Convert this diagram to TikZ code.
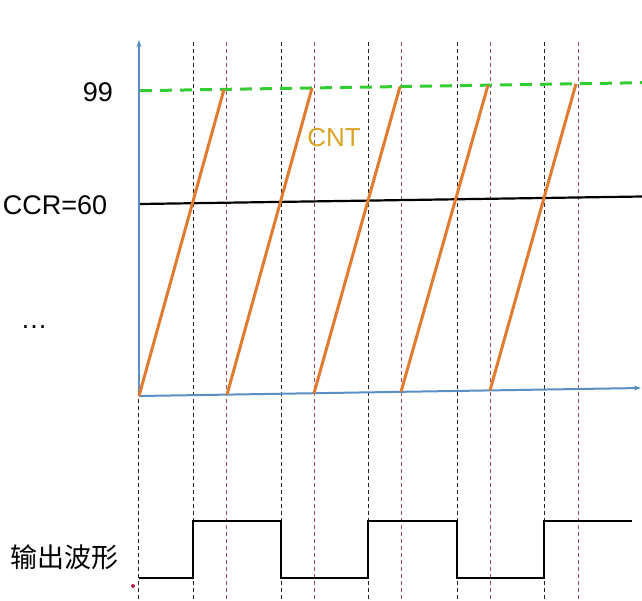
\documentclass[tikz,border=0pt]{standalone}
\usepackage{fontspec}
\setmainfont{Liberation Sans}
\newfontfamily\cjkfont{Noto Sans CJK SC}
\definecolor{axisBlue}{HTML}{5B8FC4}
\definecolor{cntOrange}{HTML}{E07B30}
\definecolor{cntLabel}{HTML}{D9A424}
\definecolor{topGreen}{HTML}{33CC33}
\definecolor{guideRed}{HTML}{A0505A}
\definecolor{markRed}{HTML}{C0204A}
\usetikzlibrary{arrows.meta}

\begin{document}
\begin{tikzpicture}[x=1pt, y=-1pt,
  axis/.style={draw=axisBlue, line width=2pt, -{Stealth[length=7pt, width=5pt]}},
  guide/.style={line width=1pt, dash pattern=on 4pt off 3pt},
  tooth/.style={draw=cntOrange, line width=3pt},
  pwm/.style={draw=black, line width=2.6pt, line join=miter},
  lbl/.style={font=\fontsize{27}{32}\selectfont, inner sep=0pt}]
  \useasboundingbox (0,0) rectangle (642,600);

  % dashed guides (compare events and overflows)
  \foreach \x in {138,193,281,368,457,544}
    \draw[guide, black!85] (\x,42) -- (\x,600);
  \foreach \x in {226,314,401,490,578}
    \draw[guide, guideRed] (\x,42) -- (\x,600);

  % axes
  \coordinate (o) at (139,396);
  \coordinate (ytop) at (139,40);
  \coordinate (xend) at (641,388);
  \draw[axis] (o) -- (ytop);
  \draw[axis] (o) -- (xend);

  % top value and compare value
  \coordinate (top0) at (140,90.7);
  \coordinate (top1) at (642,82.7);
  \draw[topGreen, line width=3pt, dash pattern=on 12pt off 8pt] (top0) -- (top1);
  \coordinate (ccr0) at (140,204);
  \coordinate (ccr1) at (642,196.5);
  \draw[black, line width=2.2pt] (ccr0) -- (ccr1);

  % counter sawtooth
  \foreach \a/\ya/\b/\yb in {139/396/224/89.4, 227/394.6/312/88,
      314/393.2/400/86.6, 401/391.8/488/85.2, 490/390.4/576/83.8}
    \draw[tooth] (\a,\ya) -- (\b,\yb);

  \node[lbl] (top) at (98,92) {99};
  \node[lbl] (ccr) at (55,205) {CCR=60};
  \node[lbl, text=cntLabel, font=\fontsize{26}{30}\selectfont] (cnt) at (334,138) {CNT};
  \node[lbl, anchor=base] (dots) at (34,328) {…};

  % output waveform
  \draw[pwm] (139,578) -- (193,578) -- (193,521) -- (281,521) -- (281,578)
    -- (368,578) -- (368,521) -- (457,521) -- (457,578) -- (544,578)
    -- (544,521) -- (632,521);
  \node[font=\cjkfont\fontsize{27}{32}\selectfont, inner sep=0pt] (out) at (64,557) {输出波形};
  \fill[markRed] (133,586) circle (2);
\end{tikzpicture}
\end{document}
